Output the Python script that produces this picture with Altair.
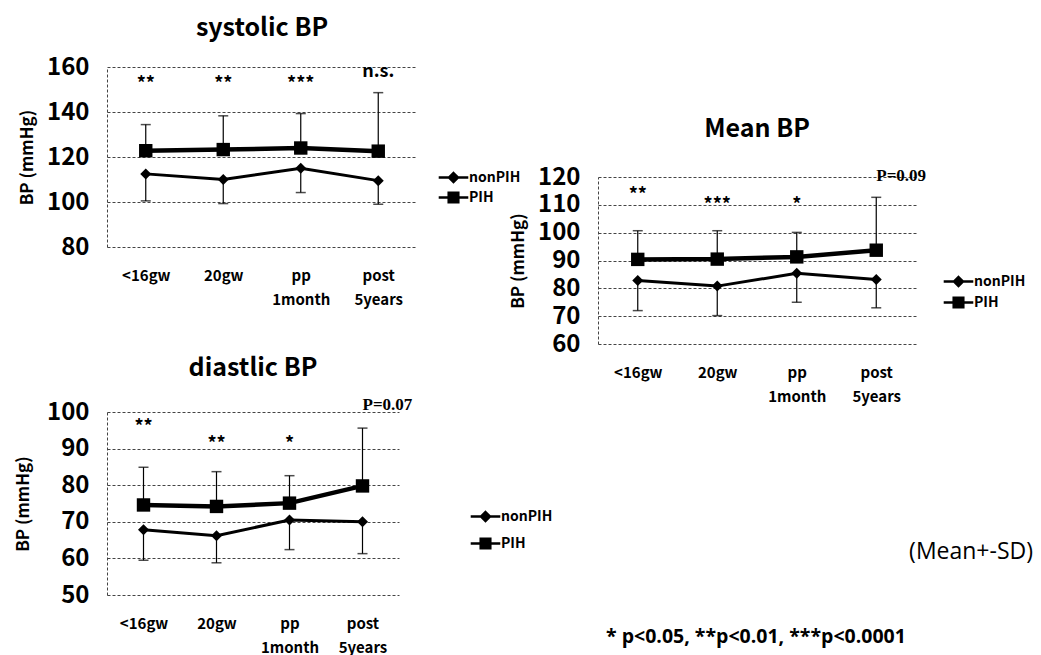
import altair as alt
import pandas as pd

categories = ["<16gw", "20gw", "pp 1month", "post 5years"]
series = ["nonPIH", "PIH"]

# systolic BP
sys_non_mean = [112.5, 110.0, 115.0, 109.5]
sys_non_sd = [12.0, 10.7, 10.8, 10.5]
sys_pih_mean = [122.8, 123.3, 124.0, 122.6]
sys_pih_sd = [11.6, 15.0, 15.3, 26.0]
sys_star_cats = ["<16gw", "20gw", "pp 1month", "post 5years"]
sys_star_text = ["**", "**", "***", "n.s."]
sys_star_y = [152, 152, 152, 158]

# Mean BP
mean_non_mean = [82.8, 80.8, 85.4, 83.2]
mean_non_sd = [10.8, 10.6, 10.4, 10.2]
mean_pih_mean = [90.4, 90.5, 91.3, 93.7]
mean_pih_sd = [10.3, 10.2, 8.8, 19.0]
mean_star_cats = ["<16gw", "20gw", "pp 1month"]
mean_star_text = ["**", "***", "*"]
mean_star_y = [113, 109.6, 109.6]
mean_p_cat = ["post 5years"]
mean_p_text = ["P=0.09"]
mean_p_y = [120.5]

# diastolic BP
dia_non_mean = [67.8, 66.2, 70.5, 70.0]
dia_non_sd = [8.3, 7.4, 8.1, 8.7]
dia_pih_mean = [74.6, 74.2, 75.1, 79.8]
dia_pih_sd = [10.3, 9.5, 7.5, 15.8]
dia_star_cats = ["<16gw", "20gw", "pp 1month"]
dia_star_text = ["**", "**", "*"]
dia_star_y = [95.6, 91, 91]
dia_p_cat = ["post 5years"]
dia_p_text = ["P=0.07"]
dia_p_y = [101.8]

notes_text = ["(Mean+-SD)", "* p<0.05, **p<0.01, ***p<0.0001"]

FONT = "Noto Sans CJK JP"
SERIF = "Liberation Serif"
# legend symbols: line segment with a (stroke-filled) marker in the middle
PATH_NON = "M-1.85,0H1.85M0,-0.56L0.56,0L0,0.56L-0.56,0ZM0,-0.28L0.28,0L0,0.28L-0.28,0ZM0,-0.5V0.5"
PATH_PIH = "M-1.85,0H1.85M-0.6,-0.6H0.6V0.6H-0.6ZM-0.3,-0.3H0.3V0.3H-0.3ZM0,-0.6V0.6"


def panel(title, non_mean, non_sd, pih_mean, pih_sd, star_cats, star_text, star_y,
          p_cat, p_text, p_y, ydomain, yticks, width, height,
          legend_x, legend_y, row_pad, title_offset, ytitle_pad):
    df = pd.DataFrame({
        "cat": categories * 2,
        "series": ["nonPIH"] * 4 + ["PIH"] * 4,
        "mean": non_mean + pih_mean,
        "end": [m - s for m, s in zip(non_mean, non_sd)] + [m + s for m, s in zip(pih_mean, pih_sd)],
    })
    xs = alt.Scale(type="point", padding=0.5, domain=categories)
    x = alt.X("cat:N", sort=categories, scale=xs,
              axis=alt.Axis(title=None, labelExpr="split(datum.label, ' ')"))
    ys = alt.Scale(domain=ydomain, nice=False, zero=False)
    yaxis = alt.Axis(values=yticks, title="BP (mmHg)", titlePadding=ytitle_pad)

    def Y(f):
        return alt.Y(f, scale=ys, axis=yaxis)

    base = alt.Chart(df)
    non = base.transform_filter(alt.datum.series == "nonPIH")
    pih = base.transform_filter(alt.datum.series == "PIH")
    rules = base.mark_rule(strokeWidth=1.2, color="black").encode(x=x, y=Y("mean:Q"), y2="end:Q")
    caps = base.mark_tick(size=10, thickness=1.5, color="black").encode(x=x, y=Y("end:Q"))
    line_non = non.mark_line(color="black", strokeWidth=3).encode(x=x, y=Y("mean:Q"))
    line_pih = pih.mark_line(color="black", strokeWidth=4.5).encode(x=x, y=Y("mean:Q"))
    pts_non = non.mark_point(shape="diamond", filled=True, size=121, color="black", opacity=1).encode(
        x=x, y=Y("mean:Q"))
    pts_pih = pih.mark_point(shape="square", filled=True, size=180, color="black", opacity=1).encode(
        x=x, y=Y("mean:Q"))
    # legend carrier: no rows pass the filter, the legend comes from the shape scale's domain
    legend_layer = base.transform_filter(alt.datum.series == "__none__").mark_point(
        filled=False, strokeWidth=2.5, color="black").encode(
        x=x, y=Y("mean:Q"),
        shape=alt.Shape("series:N", scale=alt.Scale(domain=series, range=[PATH_NON, PATH_PIH]),
                        legend=alt.Legend(title=None, orient="none", legendX=legend_x, legendY=legend_y,
                                          symbolSize=256, symbolStrokeWidth=2.5, symbolStrokeColor="black",
                                          symbolOpacity=1,
                                          labelFont=FONT, labelFontSize=14, labelFontWeight="bold",
                                          labelColor="black",
                                          labelOffset=6, rowPadding=row_pad, padding=0)),
    )
    sdf = pd.DataFrame({"cat": star_cats, "t": star_text, "yv": star_y})
    stars = alt.Chart(sdf).mark_text(font=FONT, fontSize=18, fontWeight="bold", baseline="middle",
                                     align="center", color="black").encode(
        x=x, y=Y("yv:Q"), text="t:N")
    layers = [rules, caps, line_non, line_pih, pts_non, pts_pih, legend_layer, stars]
    if p_text:
        pdf = pd.DataFrame({"cat": p_cat, "t": p_text, "yv": p_y})
        ptxt = alt.Chart(pdf).mark_text(font=SERIF, fontSize=17, fontWeight="bold", baseline="middle",
                                        align="left", color="black").encode(
            x=x, y=Y("yv:Q"), text="t:N")
        layers.append(ptxt)
    return alt.layer(*layers).properties(
        width=width, height=height,
        title=alt.TitleParams(title, font=FONT, fontSize=25, fontWeight="bold", offset=title_offset,
                              anchor="middle", color="black"),
    )


sys_chart = panel("systolic BP", sys_non_mean, sys_non_sd, sys_pih_mean, sys_pih_sd,
                  sys_star_cats, sys_star_text, sys_star_y, [], [], [],
                  [80, 160], [80, 100, 120, 140, 160], 310, 180, 337, 101, 0, 14, 10)
mean_chart = panel("Mean BP", mean_non_mean, mean_non_sd, mean_pih_mean, mean_pih_sd,
                   mean_star_cats, mean_star_text, mean_star_y, mean_p_cat, mean_p_text, mean_p_y,
                   [60, 120], [60, 70, 80, 90, 100, 110, 120], 318, 167, 351, 95, 1, 23, 10)
dia_chart = panel("diastlic BP", dia_non_mean, dia_non_sd, dia_pih_mean, dia_pih_sd,
                  dia_star_cats, dia_star_text, dia_star_y, dia_p_cat, dia_p_text, dia_p_y,
                  [50, 100], [50, 60, 70, 80, 90, 100], 292, 183, 369, 95, 7, 15, 14)

spacer = alt.Chart(pd.DataFrame({"t": [""]})).mark_text().encode(text="t:N").properties(width=10, height=50)

ndf = pd.DataFrame({"t": notes_text})
note1 = alt.Chart(ndf[ndf.t == notes_text[0]]).mark_text(
    font="Open Sans", fontSize=23, align="right", baseline="middle", color="black").encode(
    text="t:N", x=alt.value(435), y=alt.value(148))
note2 = alt.Chart(ndf[ndf.t == notes_text[1]]).mark_text(
    font="Open Sans", fontSize=19.5, fontWeight="bold", align="left", baseline="middle", color="black").encode(
    text="t:N", x=alt.value(8), y=alt.value(233))
notes = alt.layer(note1, note2).properties(width=435, height=255)

left = alt.vconcat(sys_chart, dia_chart, spacing=49).resolve_scale(shape="independent").resolve_legend(shape="independent")
right = alt.vconcat(spacer, mean_chart, notes, spacing=0).resolve_scale(shape="independent").resolve_legend(shape="independent")

chart = alt.hconcat(left, right, spacing=-44).resolve_scale(shape="independent").resolve_legend(
    shape="independent").properties(
    padding={"left": 6, "top": 8, "right": 0, "bottom": 10},
    background="white",
).configure_view(strokeWidth=0).configure_axisY(
    grid=True, gridColor="#444", gridDash=[3, 2], gridWidth=1,
    domain=True, domainDash=[3, 2], domainColor="#444", domainWidth=1,
    ticks=False, labelFont=FONT, labelFontSize=24, labelFontWeight="bold", labelColor="black",
    labelPadding=18, titleFont=FONT, titleFontSize=17, titleFontWeight="bold", titleColor="black",
).configure_axisX(
    domain=False, ticks=False, grid=False, labelFont=FONT, labelFontSize=15, labelFontWeight="bold",
    labelColor="black", labelPadding=21, labelLineHeight=24, labelAngle=0,
)

chart.save("out.html", embed_options={"renderer": "svg", "actions": False})
